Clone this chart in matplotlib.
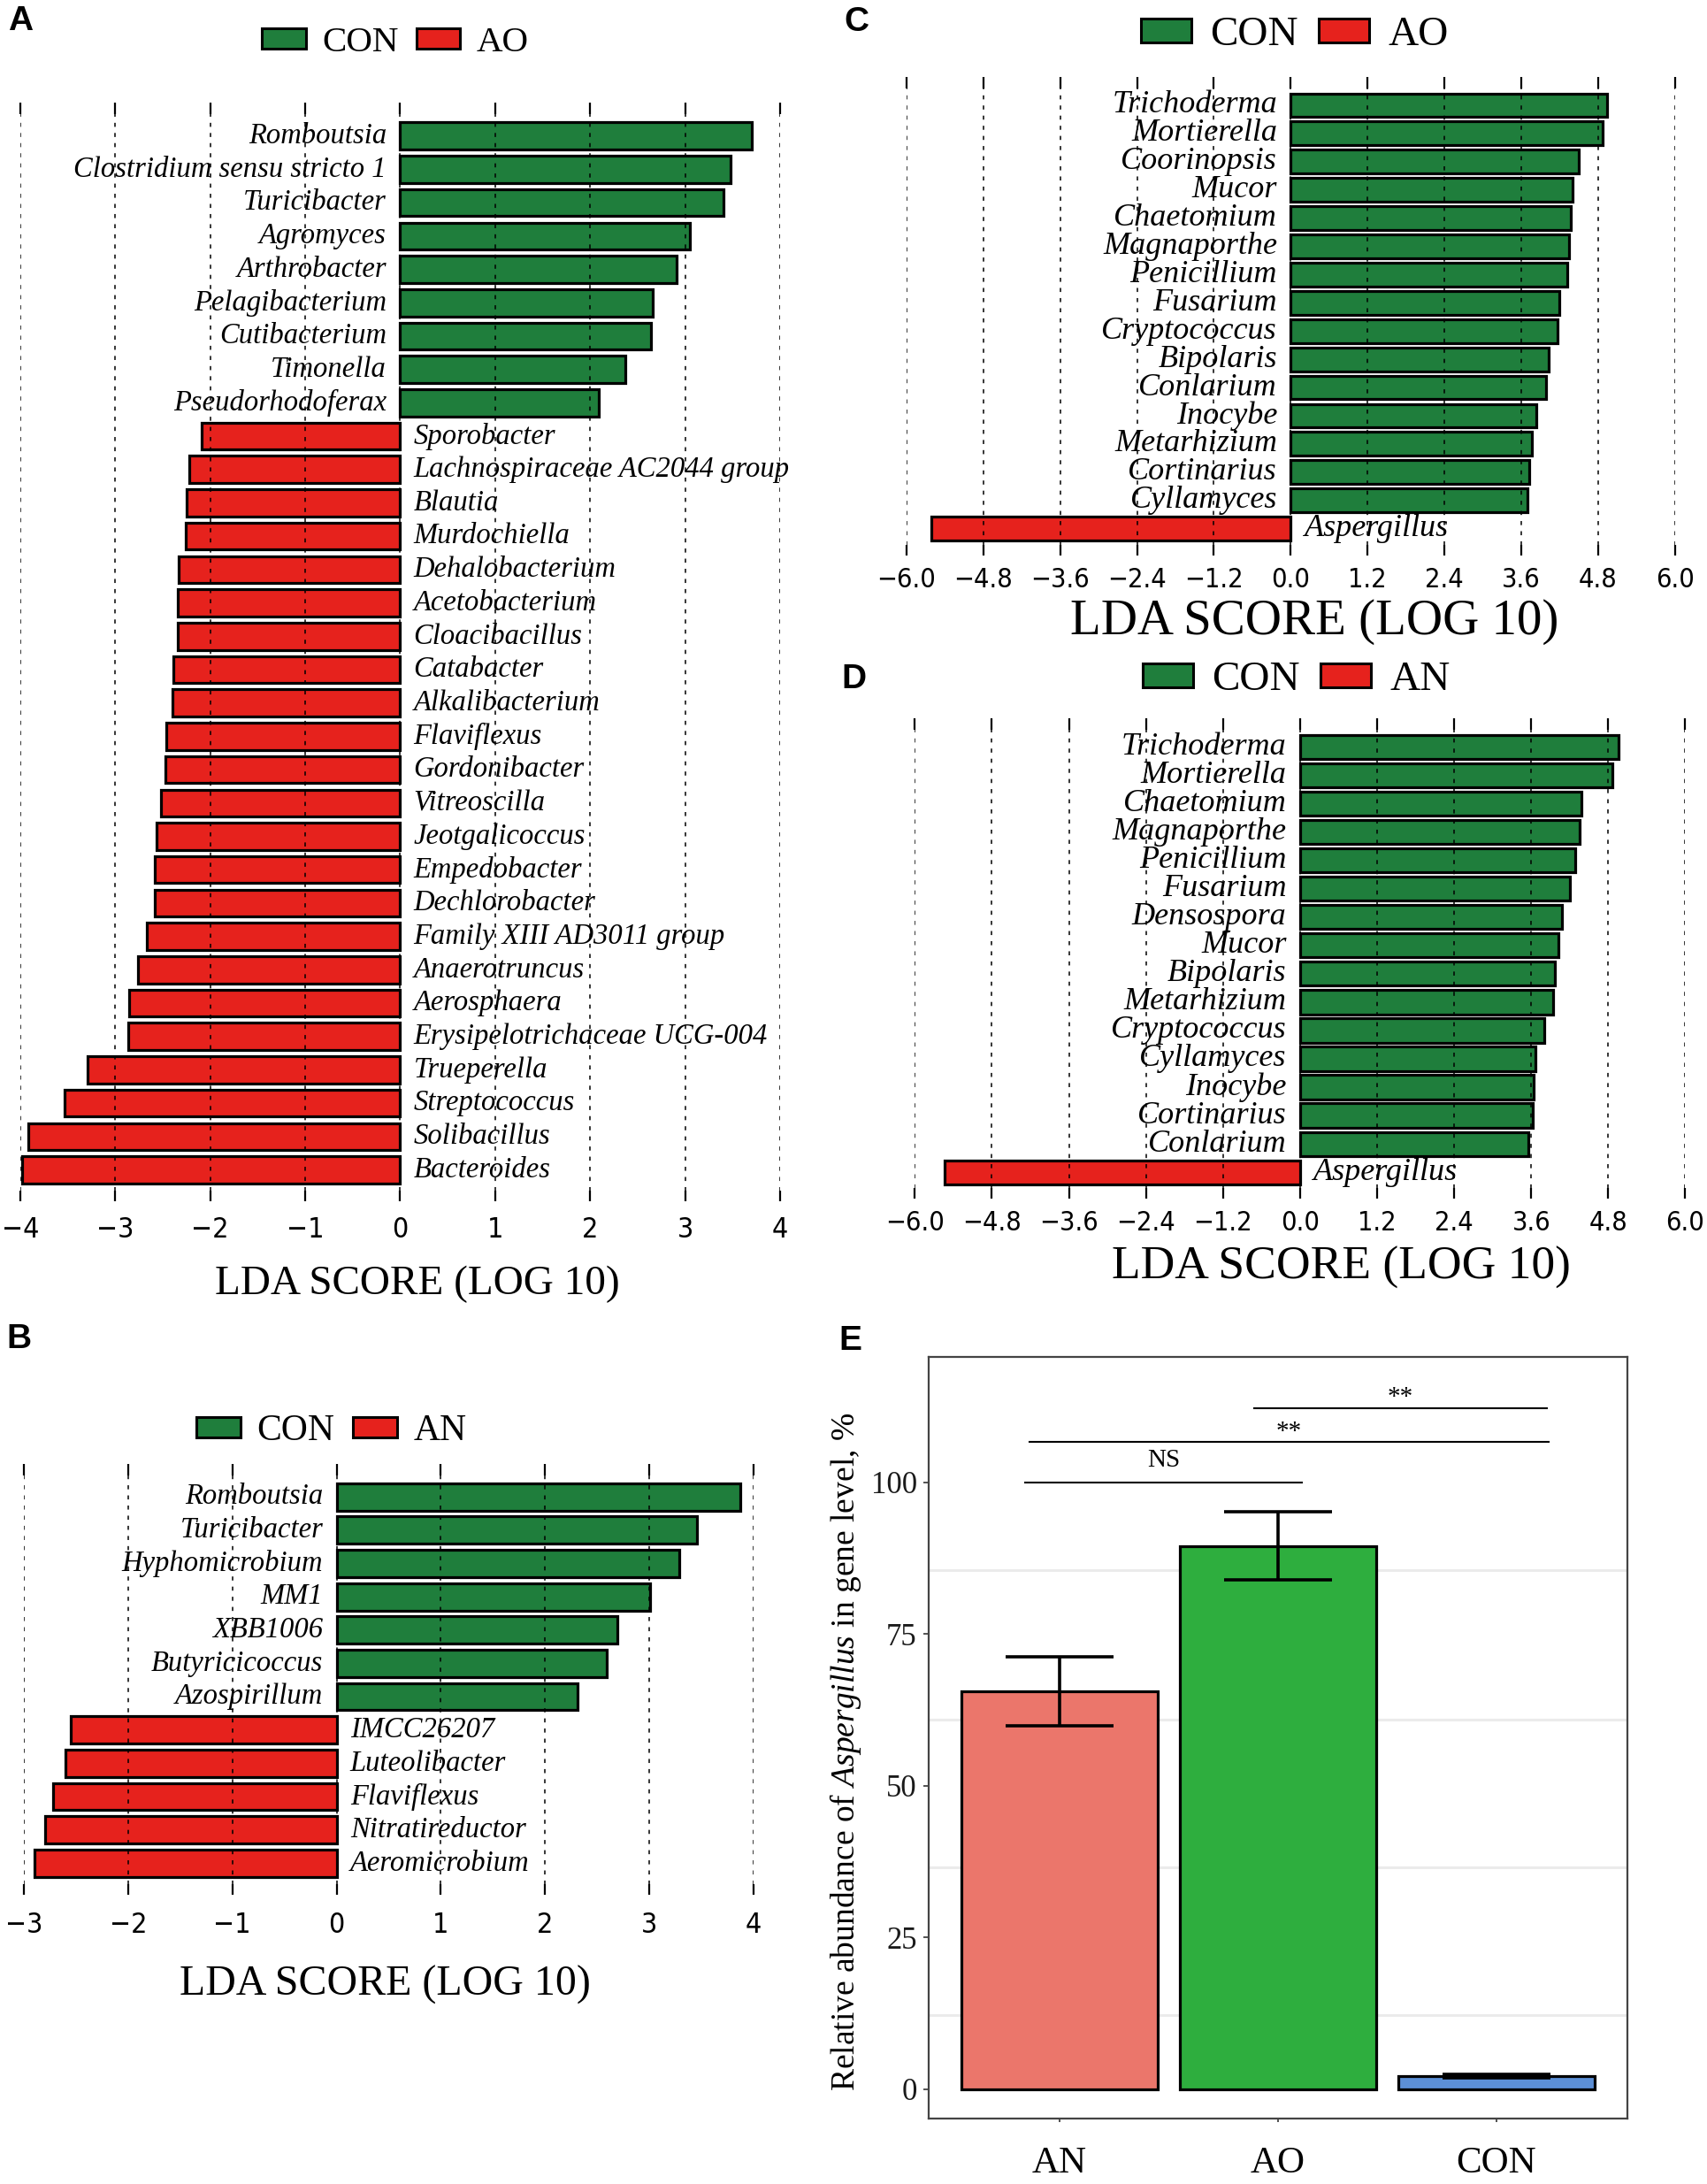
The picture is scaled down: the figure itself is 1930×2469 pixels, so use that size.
import matplotlib
matplotlib.use("Agg")
import matplotlib.pyplot as plt
from matplotlib.patches import Patch
from matplotlib.ticker import FixedLocator

plt.rcParams['mathtext.fontset'] = 'custom'
plt.rcParams['mathtext.rm'] = 'Liberation Serif'
plt.rcParams['mathtext.it'] = 'Liberation Serif:italic'

W, H = 1931, 2469
DPI = 100
SERIF = 'Liberation Serif'
GREEN = '#1f7e3c'
RED = '#e6221d'

# panel A: CON vs AO (bacteria)
names_a = ["Romboutsia", "Clostridium sensu stricto 1", "Turicibacter", "Agromyces",
           "Arthrobacter", "Pelagibacterium", "Cutibacterium", "Timonella",
           "Pseudorhodoferax", "Sporobacter", "Lachnospiraceae AC2044 group", "Blautia",
           "Murdochiella", "Dehalobacterium", "Acetobacterium", "Cloacibacillus",
           "Catabacter", "Alkalibacterium", "Flaviflexus", "Gordonibacter", "Vitreoscilla",
           "Jeotgalicoccus", "Empedobacter", "Dechlorobacter", "Family XIII AD3011 group",
           "Anaerotruncus", "Aerosphaera", "Erysipelotrichaceae UCG-004", "Trueperella",
           "Streptococcus", "Solibacillus", "Bacteroides"]
lda_a = [3.70, 3.48, 3.40, 3.05, 2.91, 2.66, 2.64, 2.37, 2.09,
         -2.09, -2.22, -2.25, -2.26, -2.33, -2.34, -2.34, -2.39, -2.40, -2.46, -2.47,
         -2.52, -2.56, -2.58, -2.58, -2.67, -2.76, -2.85, -2.86, -3.29, -3.53, -3.91, -3.98]

# panel B: CON vs AN (bacteria)
names_b = ["Romboutsia", "Turicibacter", "Hyphomicrobium", "MM1", "XBB1006",
           "Butyricicoccus", "Azospirillum", "IMCC26207", "Luteolibacter",
           "Flaviflexus", "Nitratireductor", "Aeromicrobium"]
lda_b = [3.87, 3.46, 3.29, 3.01, 2.69, 2.59, 2.31, -2.55, -2.60, -2.72, -2.80, -2.90]

# panel C: CON vs AO (fungi)
names_c = ["Trichoderma", "Mortierella", "Coorinopsis", "Mucor", "Chaetomium",
           "Magnaporthe", "Penicillium", "Fusarium", "Cryptococcus", "Bipolaris",
           "Conlarium", "Inocybe", "Metarhizium", "Cortinarius", "Cyllamyces", "Aspergillus"]
lda_c = [4.94, 4.87, 4.50, 4.40, 4.37, 4.35, 4.32, 4.19, 4.17, 4.03, 3.99, 3.84,
         3.76, 3.72, 3.70, -5.62]

# panel D: CON vs AN (fungi)
names_d = ["Trichoderma", "Mortierella", "Chaetomium", "Magnaporthe", "Penicillium",
           "Fusarium", "Densospora", "Mucor", "Bipolaris", "Metarhizium", "Cryptococcus",
           "Cyllamyces", "Inocybe", "Cortinarius", "Conlarium", "Aspergillus"]
lda_d = [4.96, 4.86, 4.38, 4.36, 4.28, 4.20, 4.08, 4.02, 3.97, 3.94, 3.80, 3.66,
         3.64, 3.62, 3.55, -5.54]

ticks_ab = [-4, -3, -2, -1, 0, 1, 2, 3, 4]
ticks_cd = [-6.0, -4.8, -3.6, -2.4, -1.2, 0.0, 1.2, 2.4, 3.6, 4.8, 6.0]

# panel E: relative abundance of Aspergillus
groups_e = ["AN", "AO", "CON"]
mean_e = [65.6, 89.5, 2.2]
se_e = [5.7, 5.6, 0.3]
colors_e = ['#eb766b', '#2eae3e', '#5c8fd6']
grid_e = [12.2, 36.6, 60.9, 85.5]
sig_x0 = [-0.16, -0.14, 0.89]
sig_x1 = [1.11, 2.24, 2.23]
sig_y = [100.0, 106.6, 112.2]
sig_txt = ["NS", "**", "**"]
sig_txt_y = [103.6, 108.3, 113.9]

fig = plt.figure(figsize=(W / DPI, H / DPI), dpi=DPI)


def add_ax(x0, y0, x1, y1):
    return fig.add_axes([x0 / W, 1 - y1 / H, (x1 - x0) / W, (y1 - y0) / H])


def fmt(v, dec):
    s = f"{abs(v):.{dec}f}"
    return ("\u2212" + s) if v < 0 else s


def lda_panel(rect, names, scores, ticks, dec, bar_h, lab_fs, tick_fs, tick_pad):
    ax = add_ax(*rect)
    ypos = list(range(len(names)))
    colors = [GREEN if s > 0 else RED for s in scores]
    ax.barh(ypos, scores, height=bar_h, color=colors, edgecolor='black',
            linewidth=2.3, zorder=1)
    for i, (n, s) in enumerate(zip(names, scores)):
        off, ha = (-11, 'right') if s > 0 else (11, 'left')
        ax.annotate(n, (0, i), xytext=(off, 0), textcoords='offset points',
                    ha=ha, va='center', fontsize=lab_fs, family=SERIF,
                    style='italic', zorder=0.5)
    ax.set_xlim(ticks[0], ticks[-1])
    ax.set_ylim(len(names) - 0.06, -1.0)
    ax.set_xticks(ticks)
    ax.set_xticklabels([fmt(t, dec) for t in ticks], fontsize=tick_fs,
                       fontstretch='condensed')
    ax.set_yticks([])
    for sp in ax.spines.values():
        sp.set_visible(False)
    ax.tick_params(axis='x', top=True, bottom=True, direction='in', length=9,
                   width=1.6, pad=tick_pad)
    ax.set_axisbelow(False)
    ax.grid(axis='x', color='black', linewidth=1.1, linestyle=(0, (3.0, 4.5)))
    return ax


def legend(cx, cy, other, fs):
    handles = [Patch(facecolor=GREEN, edgecolor='black', linewidth=2.2, label="CON"),
               Patch(facecolor=RED, edgecolor='black', linewidth=2.2, label=other)]
    fig.legend(handles=handles, loc='center', bbox_to_anchor=(cx / W, 1 - cy / H),
               ncol=2, frameon=False, prop={'family': SERIF, 'size': fs},
               handlelength=1.2, handleheight=0.5, handletextpad=0.45,
               columnspacing=0.5, borderpad=0)


def xlabel(cx, cy, fs):
    fig.text(cx / W, 1 - cy / H, "LDA SCORE (LOG 10)", ha='center', va='center',
             fontsize=fs, family=SERIF)


def panel_letter(cx, cy, s):
    fig.text(cx / W, 1 - cy / H, s, ha='center', va='center', fontsize=28,
             family='Liberation Sans', weight='bold')


# A
lda_panel((22.7, 116, 882, 1358), names_a, lda_a, ticks_ab, 0, 0.81, 23.5, 23, 12)
legend(447, 48.5, "AO", 29.5)
xlabel(472, 1452, 34)
panel_letter(23, 24, "A")

# B
lda_panel((27, 1654.5, 852, 2141.7), names_b, lda_b, ticks_ab[1:], 0, 0.82, 23.5, 23, 14)
legend(375, 1618, "AN", 30)
xlabel(435, 2244, 34.5)
panel_letter(21, 1514, "B")

# C
lda_panel((1025, 87, 1893.7, 627.6), names_c, lda_c, ticks_cd, 1, 0.84, 26, 22, 10)
legend(1464, 40, "AO", 34)
xlabel(1486, 703, 41)
panel_letter(968, 25, "C")

# D
lda_panel((1034.3, 812.4, 1905.5, 1355.3), names_d, lda_d, ticks_cd, 1, 0.85, 26, 22, 9)
legend(1466, 769, "AN", 34)
xlabel(1516, 1433, 38.5)
panel_letter(965, 768, "D")

# E
ax = add_ax(1050, 1533.6, 1840, 2394.8)
xe = list(range(len(groups_e)))
ax.bar(xe, mean_e, width=0.9, color=colors_e, edgecolor='black', linewidth=2.3, zorder=2)
ax.errorbar(xe, mean_e, yerr=se_e, fmt='none', ecolor='black', elinewidth=2.6,
            capsize=44, capthick=2.6, zorder=3)
ax.set_xlim(-0.6, 2.6)
ax.set_ylim(-4.8, 120.7)
ax.set_xticks(xe)
ax.set_xticklabels(groups_e, fontsize=31, family=SERIF)
ax.set_yticks([0, 25, 50, 75, 100])
ax.set_yticklabels(["0", "25", "50", "75", "100"], fontsize=25, family=SERIF)
ax.yaxis.set_minor_locator(FixedLocator(grid_e))
ax.set_axisbelow(True)
ax.grid(which='minor', axis='y', color='#ebebeb', linewidth=2.2)
ax.tick_params(which='minor', length=0)
ax.tick_params(axis='y', which='major', length=4.5, width=1.3, color='#444444', pad=5,
               labelcolor='#1a1a1a')
ax.tick_params(axis='x', which='major', length=3, width=1.3, color='#444444', pad=20)
for sp in ax.spines.values():
    sp.set_color('#444444')
    sp.set_linewidth(1.6)
for x0, x1, y, t, ty in zip(sig_x0, sig_x1, sig_y, sig_txt, sig_txt_y):
    ax.plot([x0, x1], [y, y], color='black', linewidth=1.5)
    ax.text((x0 + x1) / 2, ty, t, ha='center', va='center', fontsize=21, family=SERIF)
fig.text(956 / W, 1 - 1980 / H,
         r"Relative abundance of $\mathit{Aspergillus}$ in gene level, %",
         rotation=90, ha='center', va='center', fontsize=27, family=SERIF)
panel_letter(961, 1516, "E")

fig.savefig("out.png", dpi=DPI)
